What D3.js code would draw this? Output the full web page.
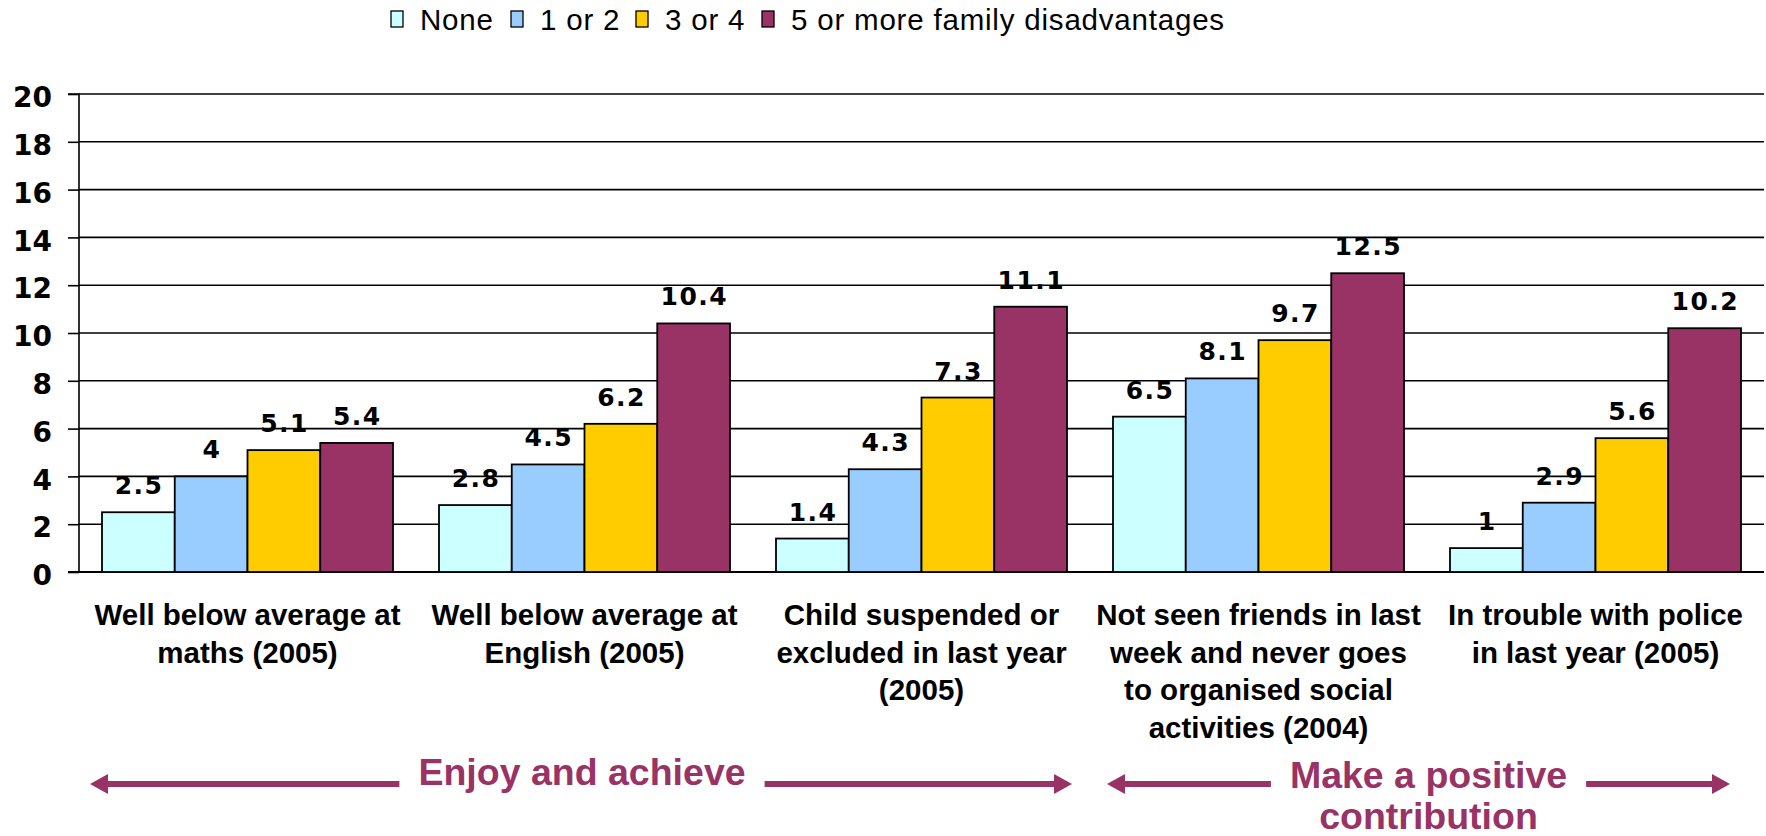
<!DOCTYPE html>
<html>
<head>
<meta charset="utf-8">
<script src="https://cdn.jsdelivr.net/npm/d3@7"></script>
<style>
html,body{margin:0;padding:0;background:#fff;}
svg{display:block;}
</style>
</head>
<body>
<svg id="chart" width="1766" height="836"></svg>
<script>
// ---- data ----
const categories = [
  ["Well below average at", "maths (2005)"],
  ["Well below average at", "English (2005)"],
  ["Child suspended or", "excluded in last year", "(2005)"],
  ["Not seen friends in last", "week and never goes", "to organised social", "activities (2004)"],
  ["In trouble with police", "in last year (2005)"]
];
const seriesNames = ["None", "1 or 2", "3 or 4", "5 or more family disadvantages"];
const noneValues        = [2.5, 2.8, 1.4, 6.5, 1];
const oneOrTwoValues    = [4, 4.5, 4.3, 8.1, 2.9];
const threeOrFourValues = [5.1, 6.2, 7.3, 9.7, 5.6];
const fivePlusValues    = [5.4, 10.4, 11.1, 12.5, 10.2];
const seriesColors = ["#CCFFFF", "#99CCFF", "#FFCC00", "#993366"];
const yTicks = [0, 2, 4, 6, 8, 10, 12, 14, 16, 18, 20];
const groupAnnotations = [
  {lines: ["Enjoy and achieve"], from: 0, to: 2},
  {lines: ["Make a positive", "contribution"], from: 3, to: 4}
];
const annotColor = "#993366";

const seriesValues = [noneValues, oneOrTwoValues, threeOrFourValues, fivePlusValues];

// ---- layout ----
const svg = d3.select("#chart");
const plot = {left: 79, right: 1764, top: 94, bottom: 572};

const x0 = d3.scaleBand().domain(d3.range(categories.length))
  .range([plot.left, plot.right]).paddingInner(0.1365).paddingOuter(0.06825);
const x1 = d3.scaleBand().domain(d3.range(seriesNames.length))
  .range([0, x0.bandwidth()]).padding(0);
const y = d3.scaleLinear().domain([0, 20]).range([plot.bottom, plot.top]);

// gridlines
svg.append("g").selectAll("line").data(yTicks.filter(t => t > 0)).join("line")
  .attr("x1", plot.left).attr("x2", plot.right)
  .attr("y1", d => y(d)).attr("y2", d => y(d))
  .attr("stroke", "#000").attr("stroke-width", 1.6);

// y axis
const yAxis = d3.axisLeft(y).tickValues(yTicks).tickSize(11).tickPadding(16).tickFormat(d3.format("d"));
const gy = svg.append("g").attr("transform", `translate(${plot.left},0)`).call(yAxis);
gy.select(".domain").attr("stroke", "#000").attr("stroke-width", 1.6).attr("d", `M-11,${plot.top}H0V${plot.bottom}H-11`);
gy.selectAll(".tick line").attr("stroke", "#000").attr("stroke-width", 1.6);
gy.selectAll(".tick text")
  .attr("font-family", "'DejaVu Sans', Verdana, sans-serif")
  .attr("font-weight", "bold").attr("font-size", 28).attr("fill", "#000")
  .attr("dy", "0.45em");

// x axis baseline
svg.append("line").attr("x1", plot.left - 11).attr("x2", plot.right)
  .attr("y1", y(0)).attr("y2", y(0)).attr("stroke", "#000").attr("stroke-width", 1.8);

// bars
const groups = svg.append("g").selectAll("g").data(categories).join("g")
  .attr("transform", (d, i) => `translate(${x0(i)},0)`);

groups.each(function(cat, ci) {
  const g = d3.select(this);
  const data = seriesValues.map((vals, si) => ({si, v: vals[ci]}));
  g.selectAll("rect").data(data).join("rect")
    .attr("x", d => x1(d.si)).attr("width", x1.bandwidth())
    .attr("y", d => y(d.v)).attr("height", d => y(0) - y(d.v))
    .attr("fill", d => seriesColors[d.si])
    .attr("stroke", "#000").attr("stroke-width", 1.8);
  g.selectAll("text.val").data(data).join("text").attr("class", "val")
    .attr("x", d => x1(d.si) + x1.bandwidth() / 2 + 0.75)
    .attr("y", d => y(d.v) - 18)
    .attr("text-anchor", "middle")
    .attr("font-family", "'DejaVu Sans', Verdana, sans-serif")
    .attr("font-weight", "bold").attr("font-size", 25)
    .attr("letter-spacing", 1.5)
    .attr("fill", "#000")
    .text(d => d.v);
});

// category labels
const catG = svg.append("g").selectAll("text").data(categories).join("text")
  .attr("text-anchor", "middle")
  .attr("font-family", "'Liberation Sans', Arial, sans-serif")
  .attr("font-weight", "bold").attr("font-size", 29.5).attr("fill", "#000");
catG.each(function(lines, i) {
  const t = d3.select(this);
  lines.forEach((ln, li) => {
    t.append("tspan").attr("x", x0(i) + x0.bandwidth() / 2).attr("y", 625 + li * 37.5).text(ln);
  });
});

// legend
const legendX = [391, 511, 636, 762];
const lg = svg.append("g");
seriesNames.forEach((name, i) => {
  lg.append("rect").attr("x", legendX[i]).attr("y", 11).attr("width", 12).attr("height", 16)
    .attr("fill", seriesColors[i]).attr("stroke", "#000").attr("stroke-width", 1.3);
  lg.append("text").attr("x", legendX[i] + 29).attr("y", 30)
    .attr("font-family", "'Liberation Sans', Arial, sans-serif")
    .attr("font-size", 29.5).attr("letter-spacing", 0.8).attr("fill", "#000").text(name);
});

// group annotations with arrows
const arrowY = 784;
const arrowLen = 18, arrowHalf = 10;
groupAnnotations.forEach((a, ai) => {
  const left = x0(a.from) - (ai === 0 ? 12 : 6);
  const right = x0(a.to) + x0.bandwidth() + (ai === 0 ? 5 : -11);
  const cx = (left + right) / 2 + (ai === 0 ? 1 : 10);
  const t = svg.append("text").attr("text-anchor", "middle")
    .attr("font-family", "'Liberation Sans', Arial, sans-serif")
    .attr("font-weight", "bold").attr("font-size", 37.5).attr("fill", annotColor);
  a.lines.forEach((ln, li) => {
    t.append("tspan").attr("x", cx).attr("y", (ai === 0 ? 785 : 788) + li * 41).text(ln);
  });
  const w = t.select("tspan").node().getComputedTextLength();
  const gap = 19;
  const l1 = cx - w / 2 - gap, r1 = cx + w / 2 + gap;
  svg.append("line").attr("x1", left + arrowLen - 2).attr("x2", l1).attr("y1", arrowY).attr("y2", arrowY)
    .attr("stroke", annotColor).attr("stroke-width", 6);
  svg.append("line").attr("x1", r1).attr("x2", right - arrowLen + 2).attr("y1", arrowY).attr("y2", arrowY)
    .attr("stroke", annotColor).attr("stroke-width", 6);
  svg.append("path").attr("d", `M${left},${arrowY}L${left + arrowLen},${arrowY - arrowHalf}L${left + arrowLen},${arrowY + arrowHalf}Z`)
    .attr("fill", annotColor);
  svg.append("path").attr("d", `M${right},${arrowY}L${right - arrowLen},${arrowY - arrowHalf}L${right - arrowLen},${arrowY + arrowHalf}Z`)
    .attr("fill", annotColor);
});
</script>
</body>
</html>
